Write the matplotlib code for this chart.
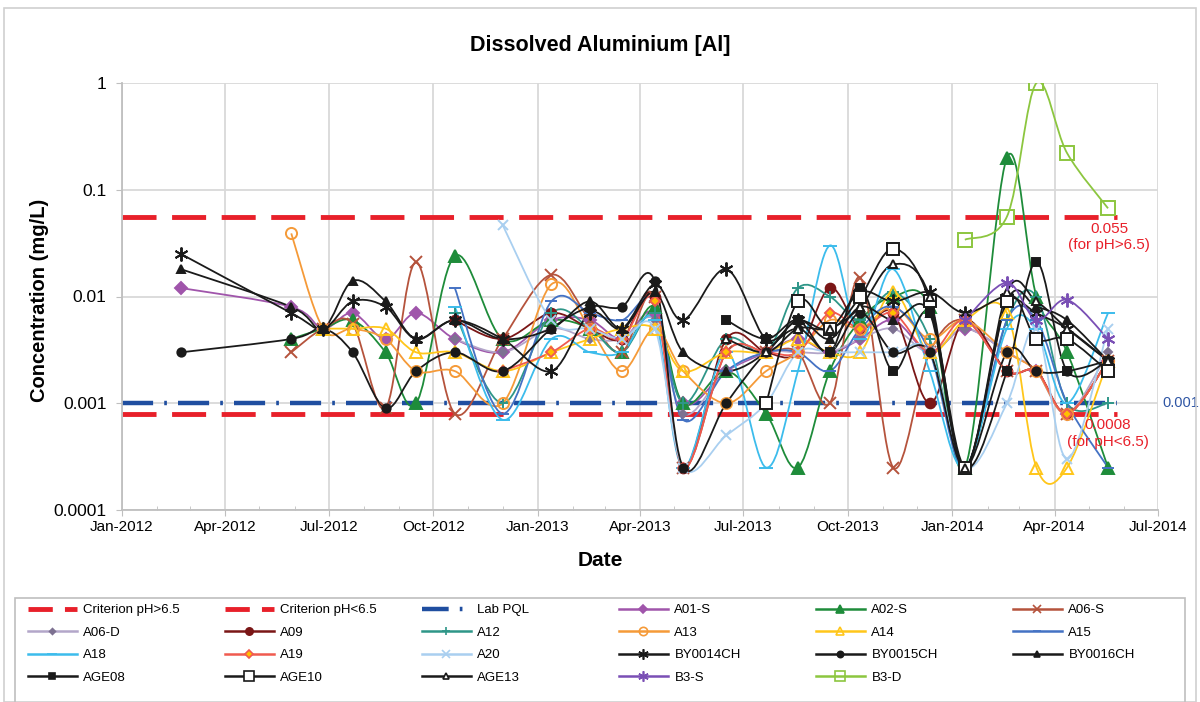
import numpy as np
import pandas as pd
import matplotlib
matplotlib.use("Agg")
import matplotlib.pyplot as plt
import matplotlib.dates as mdates
from matplotlib.path import Path
from matplotlib.patches import PathPatch, Rectangle
from matplotlib.lines import Line2D
from matplotlib.ticker import NullLocator

plt.rcParams['font.family'] = ['Liberation Sans', 'DejaVu Sans']

# -------- Datos --------
dates = pd.to_datetime([
    '2012-02-22', '2012-05-29', '2012-06-26', '2012-07-22', '2012-08-20',
    '2012-09-16', '2012-10-20', '2012-12-01', '2013-01-13', '2013-02-16',
    '2013-03-16', '2013-04-14', '2013-05-09', '2013-06-16', '2013-07-21',
    '2013-08-18', '2013-09-15', '2013-10-12', '2013-11-10', '2013-12-12',
    '2014-01-12', '2014-02-18', '2014-03-16', '2014-04-12', '2014-05-18'])
N = None

a01s = [0.012, 0.008, 0.005, 0.007, 0.004, 0.007, 0.004, 0.003, 0.006, 0.006, 0.004, 0.007, 0.001,
        0.002, 0.003, 0.004, 0.003, 0.004, 0.006, 0.003, 0.005, 0.003, 0.002, 0.0008, 0.0025]
a02s = [N, 0.004, 0.005, 0.006, 0.003, 0.001, 0.024, 0.004, 0.006, 0.005, 0.003, 0.008, 0.001,
        0.002, 0.0008, 0.00025, 0.002, 0.006, 0.01, 0.008, 0.00025, 0.2, 0.01, 0.003, 0.00025]
a06s = [N, 0.003, 0.005, 0.0055, 0.0009, 0.021, 0.0008, 0.004, 0.016, 0.006, 0.003, 0.01, 0.00025,
        0.003, 0.003, 0.003, 0.001, 0.015, 0.00025, 0.003, 0.006, 0.002, 0.002, 0.0008, 0.0025]
a06d = [N, N, N, N, N, N, 0.004, 0.003, 0.005, 0.004, 0.004, 0.006, 0.0008,
        0.002, 0.003, 0.003, 0.003, 0.004, 0.005, 0.003, 0.005, 0.003, 0.002, 0.0008, 0.003]
a09 = [N, N, N, N, N, N, 0.006, 0.004, 0.007, 0.005, 0.004, 0.01, 0.00025,
       0.004, 0.003, 0.003, 0.012, 0.005, 0.007, 0.001, 0.006, 0.002, 0.002, 0.0008, 0.0025]
a12 = [N, N, N, N, N, N, 0.007, 0.001, 0.007, 0.005, 0.003, 0.007, 0.001,
       0.004, 0.003, 0.012, 0.01, 0.006, 0.011, 0.004, 0.00025, 0.006, 0.01, 0.001, 0.001]
a13 = [N, 0.039, 0.005, 0.005, 0.004, 0.002, 0.002, 0.001, 0.013, 0.005, 0.002, 0.005, 0.002,
       0.001, 0.002, 0.003, 0.006, 0.005, 0.008, 0.004, 0.006, 0.003, 0.002, 0.0008, 0.0025]
a14 = [N, N, 0.005, 0.005, 0.005, 0.003, 0.003, 0.002, 0.003, 0.004, 0.005, 0.005, 0.002,
       0.003, 0.003, 0.004, 0.003, 0.003, 0.011, 0.003, 0.006, 0.007, 0.00025, 0.00025, 0.0025]
a15 = [N, N, N, N, N, N, 0.012, 0.0008, 0.009, 0.007, 0.006, 0.009, 0.0007,
       0.002, 0.003, 0.003, 0.002, 0.005, 0.008, 0.003, 0.00025, 0.006, 0.006, 0.001, 0.00025]
a18 = [N, N, N, N, N, N, 0.008, 0.0007, 0.004, 0.003, 0.003, 0.006, 0.00025,
       0.003, 0.00025, 0.002, 0.03, 0.004, 0.018, 0.002, 0.00025, 0.005, 0.005, 0.001, 0.007]
a19 = [N, N, N, N, N, N, N, 0.002, 0.003, 0.005, 0.004, 0.009, 0.00025,
       0.003, 0.003, 0.003, 0.007, 0.005, 0.007, 0.003, 0.006, 0.002, 0.002, 0.0008, 0.0025]
a20 = [N, N, N, N, N, N, N, 0.047, 0.006, 0.005, 0.004, 0.005, 0.00025,
       0.0005, 0.001, 0.003, 0.003, 0.003, 0.003, 0.003, 0.00025, 0.001, 0.005, 0.0003, 0.005]
by14 = [0.025, 0.007, 0.005, 0.009, 0.008, 0.004, 0.006, 0.004, 0.002, 0.007, 0.005, 0.013, 0.006,
        0.018, 0.004, 0.006, 0.005, 0.011, 0.009, 0.011, 0.007, 0.01, 0.007, 0.005, 0.0025]
by15 = [0.003, 0.004, 0.005, 0.003, 0.0009, 0.002, 0.003, 0.002, 0.005, 0.008, 0.008, 0.014, 0.00025,
        0.001, 0.003, 0.005, 0.003, 0.007, 0.003, 0.003, 0.00025, 0.003, 0.002, 0.002, 0.0025]
by16 = [0.018, 0.008, 0.005, 0.014, 0.009, 0.004, 0.006, 0.004, 0.005, 0.009, 0.005, 0.011, 0.003,
        0.002, 0.003, 0.006, 0.004, 0.008, 0.006, 0.007, 0.00025, 0.009, 0.008, 0.006, 0.0025]
age08 = [N] * 13 + [0.006, 0.004, 0.006, 0.003, 0.012, 0.002, 0.007, 0.00025, 0.002, 0.021, 0.002, 0.0025]
age10 = [N] * 14 + [0.001, 0.009, 0.005, 0.01, 0.028, 0.009, 0.00025, 0.009, 0.004, 0.004, 0.002]
age13 = [N] * 13 + [0.004, 0.003, 0.005, 0.005, 0.008, 0.02, 0.01, 0.00025, 0.011, 0.009, 0.005, 0.0025]
b3s = [N] * 20 + [0.006, 0.0135, 0.006, 0.0093, 0.004]
b3d = [N] * 20 + [0.034, 0.056, 1.0, 0.22, 0.067]

crit_high = 0.055
crit_low = 0.0008
lab_pql = 0.001
ref_dates = pd.to_datetime(['2012-01-01', '2014-05-26'])

# nombre, valores, color, marcador, tamaño, relleno
series = [
    ('A01-S', a01s, '#a055ab', 'D', 6, None),
    ('A02-S', a02s, '#1e8c3a', '^', 8, None),
    ('A06-S', a06s, '#b5533c', 'x', 8, None),
    ('A06-D', a06d, '#b3a6c9', 'D', 4, '#7d7191'),
    ('A09', a09, '#7a1616', 'o', 7, None),
    ('A12', a12, '#2e9688', '+', 8, None),
    ('A13', a13, '#f59a38', 'o', 8, 'none'),
    ('A14', a14, '#ffc61a', '^', 8, 'none'),
    ('A15', a15, '#4472c4', '_', 8, None),
    ('A18', a18, '#3cbcec', '_', 10, None),
    ('A19', a19, '#f05a4f', 'D', 5, '#ffc000'),
    ('A20', a20, '#a9cff0', 'x', 7, None),
    ('BY0014CH', by14, '#1a1a1a', (6, 2, 0), 10, None),
    ('BY0015CH', by15, '#1a1a1a', 'o', 6, None),
    ('BY0016CH', by16, '#1a1a1a', '^', 6, None),
    ('AGE08', age08, '#1a1a1a', 's', 6, None),
    ('AGE10', age10, '#1a1a1a', 's', 9, 'white'),
    ('AGE13', age13, '#1a1a1a', '^', 6, 'white'),
    ('B3-S', b3s, '#7a4fb5', (6, 2, 0), 10, None),
    ('B3-D', b3d, '#8cc63f', 's', 10, 'none'),
]


def smooth_path(xs, ys):
    # curva suavizada tipo Excel (Bezier), calculada en espacio log
    lx = np.asarray(xs, float)
    ly = np.log10(np.asarray(ys, float))
    n = len(lx)
    verts = [(lx[0], ly[0])]
    codes = [Path.MOVETO]
    for i in range(n - 1):
        p0 = max(i - 1, 0)
        p3 = min(i + 2, n - 1)
        c1 = (lx[i] + (lx[i + 1] - lx[p0]) / 6, ly[i] + (ly[i + 1] - ly[p0]) / 6)
        c2 = (lx[i + 1] - (lx[p3] - lx[i]) / 6, ly[i + 1] - (ly[p3] - ly[i]) / 6)
        verts += [c1, c2, (lx[i + 1], ly[i + 1])]
        codes += [Path.CURVE4] * 3
    verts = np.array(verts)
    verts[:, 1] = 10 ** verts[:, 1]
    return Path(verts, codes)


fig = plt.figure(figsize=(12, 7.02), dpi=100)
fig.patches.append(Rectangle((4 / 1200, 0), 1192 / 1200, 1 - 8 / 702, transform=fig.transFigure,
                             fill=False, edgecolor='#d0d0d0', lw=1.2))
ax = fig.add_axes([122 / 1200, 1 - 510 / 702, (1158 - 122) / 1200, (510 - 83) / 702])

ax.set_yscale('log')
ax.set_ylim(1e-4, 1)
ax.set_xlim(pd.Timestamp('2012-01-01'), pd.Timestamp('2014-07-01'))

# lineas de referencia
ax.plot(ref_dates, [crit_high] * 2, color='#e8202a', lw=3.5, dashes=(7, 3.2), zorder=2)
ax.plot(ref_dates, [crit_low] * 2, color='#e8202a', lw=3.5, dashes=(7, 3.2), zorder=2)
ax.plot(ref_dates, [lab_pql] * 2, color='#1f4ea0', lw=3.2, dashes=(7, 2.5, 0.6, 2.5), zorder=2)

handles = [
    Line2D([], [], color='#e8202a', lw=3.5, dashes=(5, 2.5)),
    Line2D([], [], color='#e8202a', lw=3.5, dashes=(5, 2.5)),
    Line2D([], [], color='#1f4ea0', lw=3.2, dashes=(6, 2.5, 0.6, 2.5)),
]
labels = ['Criterion pH>6.5', 'Criterion pH<6.5', 'Lab PQL']

xnum = mdates.date2num(dates)
for name, vals, color, marker, ms, fill in series:
    xs = [xv for xv, v in zip(xnum, vals) if v is not None]
    ys = [v for v in vals if v is not None]
    ax.add_patch(PathPatch(smooth_path(xs, ys), facecolor='none', edgecolor=color,
                           lw=1.3, zorder=3))
    mfc = color if fill is None else fill
    mec = color
    if name == 'A06-D':
        mec = fill
    ax.plot(xs, ys, ls='none', marker=marker, ms=ms, mfc=mfc, mec=mec,
            mew=1.4, zorder=4)
    handles.append(Line2D([], [], color=color, lw=1.8, marker=marker, ms=ms * 0.75,
                          mfc=mfc, mec=mec, mew=1.2))
    labels.append(name)

# etiquetas de criterios
ax.annotate('0.055\n(for pH>6.5)', xy=(pd.Timestamp('2014-05-19'), crit_high), xytext=(0, -3),
            textcoords='offset points', ha='center', va='top', color='#e8202a', fontsize=11,
            linespacing=1.25)
ax.annotate('0.0008\n(for pH<6.5)', xy=(pd.Timestamp('2014-05-18'), crit_low), xytext=(0, -3),
            textcoords='offset points', ha='center', va='top', color='#e8202a', fontsize=11,
            linespacing=1.25)
ax.annotate('0.001', xy=(1, lab_pql), xycoords=('axes fraction', 'data'), xytext=(3, 0),
            textcoords='offset points', ha='left', va='center', color='#2e55a4', fontsize=10.5,
            annotation_clip=False)

# ejes
ax.set_yticks([1e-4, 1e-3, 1e-2, 1e-1, 1])
ax.set_yticklabels(['0.0001', '0.001', '0.01', '0.1', '1'])
ax.yaxis.set_minor_locator(NullLocator())
ax.xaxis.set_major_locator(mdates.MonthLocator(bymonth=[1, 4, 7, 10]))
ax.xaxis.set_major_formatter(mdates.DateFormatter('%b-%Y'))
ax.xaxis.set_minor_locator(mdates.MonthLocator())
ax.grid(True, which='major', color='#d9d9d9', lw=1.3)
ax.set_axisbelow(True)
for s in ['top', 'right']:
    ax.spines[s].set_visible(False)
for s in ['left', 'bottom']:
    ax.spines[s].set_color('#bfbfbf')
    ax.spines[s].set_linewidth(1.3)
ax.tick_params(axis='y', which='major', length=4, color='#bfbfbf', labelsize=12.5, pad=7)
ax.tick_params(axis='x', which='major', length=4, color='#bfbfbf', labelsize=11, pad=3)
ax.tick_params(axis='x', which='minor', length=3, color='#bfbfbf', direction='in')

fig.text(0.5, 1 - 45 / 702, 'Dissolved Aluminium [Al]', ha='center', va='center',
         fontsize=15.5, fontweight='bold')
fig.text(40 / 1200, 1 - 300 / 702, 'Concentration (mg/L)', ha='center', va='center',
         rotation=90, fontsize=14.5, fontweight='bold')
fig.text(0.5, 1 - 560 / 702, 'Date', ha='center', va='center', fontsize=15, fontweight='bold')

# -------- Leyenda (6 columnas, filas horizontales) --------
fig.patches.append(Rectangle((15 / 1200, -0.05), 1170 / 1200, 0.05 + 1 - 598 / 702,
                             transform=fig.transFigure, fill=False, edgecolor='#bfbfbf', lw=1.2))
ncol = 6
for c in range(ncol):
    idx = [r * ncol + c for r in range(4) if r * ncol + c < len(handles)]
    leg = fig.legend([handles[i] for i in idx], [labels[i] for i in idx],
                     loc='upper left', bbox_to_anchor=((28 + 197 * c) / 1200, 1 - 604 / 702),
                     frameon=False, fontsize=9.5, handlelength=3.7, handletextpad=0.5,
                     labelspacing=0.78, borderpad=0, borderaxespad=0)

fig.savefig('out.png', dpi=100, facecolor='white')
